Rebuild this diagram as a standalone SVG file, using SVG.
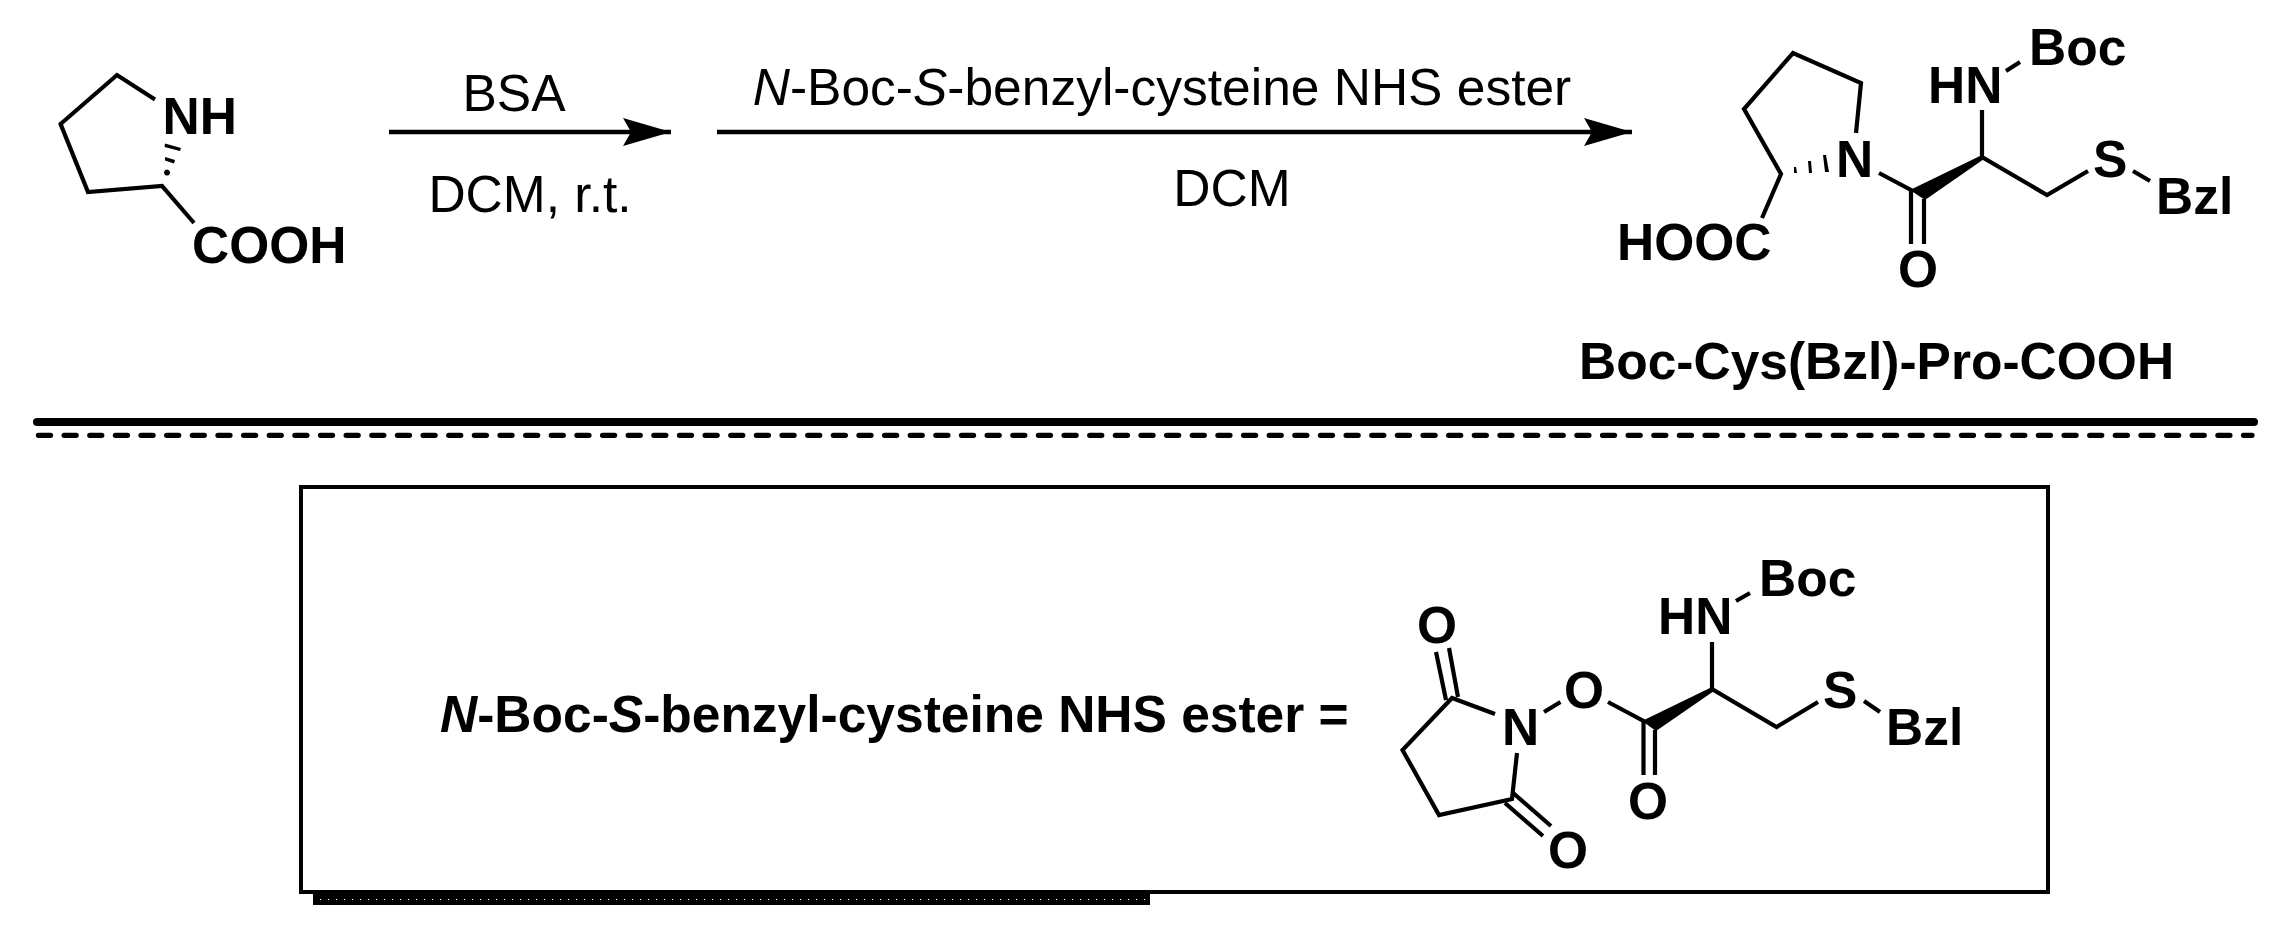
<svg xmlns="http://www.w3.org/2000/svg" width="2280" height="925" viewBox="0 0 2280 925">
<style>
.t{font-family:"Liberation Sans",Arial,sans-serif;font-size:51.500px;fill:#000}
.b{font-weight:bold}
.bond{fill:none;stroke:#000;stroke-width:4.200;stroke-linejoin:miter;stroke-linecap:butt}
.arr{fill:none;stroke:#000;stroke-width:4.300}
</style>
<defs>
<marker id="head" markerUnits="userSpaceOnUse" markerWidth="50" markerHeight="28" refX="48" refY="14" orient="auto"><path d="M0 0L48 14L0 28L8 14Z" fill="#000"/></marker>
</defs>
<rect width="2280" height="925" fill="#fff"/>
<g id="proline">
<path class="bond" d="M155 99.500L117 75L60.600 124L88 192L162 186L194 223"/>
<path d="M165 143.500L181 148L180 151L164.500 147ZM165 157L175 160L174 163.500L165 160.500ZM167 169.500a3 3 0 1 0 .01 0Z" fill="#000"/>
<text class="t b" x="162.500" y="133.500">NH</text>
<text class="t b" x="192" y="262.500">COOH</text>
</g>
<g id="connectors">
<path class="arr" d="M389 132H671" marker-end="url(#head)"/>
<path class="arr" d="M717 132H1632" marker-end="url(#head)"/>
</g>
<g id="arrow1-labels">
<text class="t" x="514" y="111" text-anchor="middle">BSA</text>
<text class="t" x="530" y="212" text-anchor="middle">DCM, r.t.</text>
</g>
<g id="arrow2-labels">
<text class="t" x="1162" y="105" text-anchor="middle"><tspan font-style="italic">N</tspan>-Boc-<tspan font-style="italic">S</tspan>-benzyl-cysteine NHS ester</text>
<text class="t" x="1232" y="206" text-anchor="middle">DCM</text>
</g>
<g id="product">
<path class="bond" d="M1856 133L1861 83L1793 53L1744 109L1781 174L1762 218"/>
<path d="M1794 167L1796 167L1797 173L1794 173ZM1808 161L1811 161L1812 173L1809 173ZM1823 155L1826 155L1829 172L1825 172Z" fill="#000"/>
<path class="bond" d="M1879 173L1911 190V244M1924 199V244M1982 110V157L2047 195L2088 171M2006 71L2020 62M2133 171L2150 181"/>
<path d="M1982 155L1984 159L1925 200L1910 190Z" fill="#000"/>
<text class="t b" x="1836" y="176.500">N</text>
<text class="t b" x="1928" y="102.500">HN</text>
<text class="t b" x="2029" y="64.500">Boc</text>
<text class="t b" x="2093" y="176.500">S</text>
<text class="t b" x="2156" y="213.500">Bzl</text>
<text class="t b" x="1898" y="286.500">O</text>
<text class="t b" x="1617" y="259.500">HOOC</text>
<text class="t b" x="1579" y="379">Boc-Cys(Bzl)-Pro-COOH</text>
</g>
<g id="divider">
<path d="M37 422H2254" stroke="#000" stroke-width="8" stroke-linecap="round" fill="none"/>
<path d="M38.500 435.300H2252" stroke="#000" stroke-width="5.300" stroke-linecap="round" stroke-dasharray="12 13.640" fill="none"/>
</g>
<g id="box">
<rect x="301" y="487" width="1747" height="405" fill="none" stroke="#000" stroke-width="4"/>
<rect x="313" y="894" width="837" height="11"/>
<path d="M320 899.500H1150" stroke="#fff" stroke-width="1" stroke-dasharray="1 7" fill="none"/>
</g>
<g id="box-label">
<text class="t b" x="440" y="731.500"><tspan font-style="italic">N</tspan>-Boc-<tspan font-style="italic">S</tspan>-benzyl-cysteine NHS ester =</text>
</g>
<g id="nhs-ester">
<path class="bond" d="M1436 652L1446 700M1449 648L1458 697M1495 714L1452 698L1402.500 750L1439 815L1512 799L1517 753M1512 792L1551 826M1505 803L1543 836M1544 712L1560.500 702M1608 702L1643.500 721V775M1655 730V775M1712 642V689L1776.600 727L1818 702M1736 601L1750 593M1864 701L1880 712"/>
<path d="M1712 687L1714 691L1656 731L1642 721Z" fill="#000"/>
<text class="t b" x="1417" y="642.500">O</text>
<text class="t b" x="1502" y="744.500">N</text>
<text class="t b" x="1564" y="707.500">O</text>
<text class="t b" x="1628" y="818.500">O</text>
<text class="t b" x="1548" y="867.500">O</text>
<text class="t b" x="1658" y="633.500">HN</text>
<text class="t b" x="1759" y="595.500">Boc</text>
<text class="t b" x="1823" y="707.500">S</text>
<text class="t b" x="1886" y="744.500">Bzl</text>
</g>
</svg>
